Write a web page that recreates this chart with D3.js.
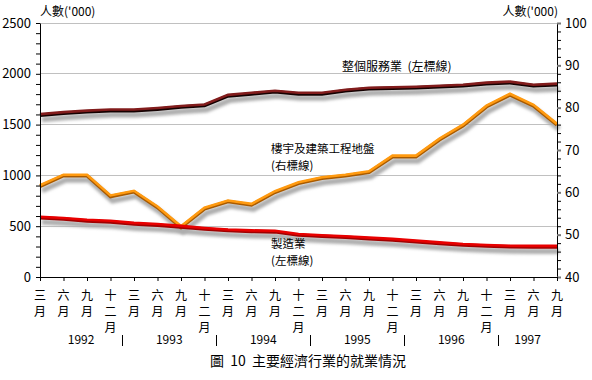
<!DOCTYPE html>
<html><head><meta charset="utf-8">
<script src="https://cdn.jsdelivr.net/npm/d3@7"></script>
<style>
body{margin:0;background:#fff}
text{font-family:"Noto Sans CJK TC","Noto Sans CJK SC",sans-serif;fill:#000}
</style>
</head><body>
<svg id="c" width="592" height="380"></svg>
<script>
// ---- data ----
const years = ["1992","1993","1994","1995","1996","1997"];
const periodYear = [
  "1992","1992","1992","1992",
  "1993","1993","1993","1993",
  "1994","1994","1994","1994",
  "1995","1995","1995","1995",
  "1996","1996","1996","1996",
  "1997","1997","1997"];
const periodMonth = [
  "三月","六月","九月","十二月",
  "三月","六月","九月","十二月",
  "三月","六月","九月","十二月",
  "三月","六月","九月","十二月",
  "三月","六月","九月","十二月",
  "三月","六月","九月"];
// 整個服務業 (left axis)
const services = [1600,1620,1635,1645,1645,1660,1680,1695,1790,1810,1830,1810,
                  1810,1840,1860,1865,1870,1880,1890,1910,1920,1890,1900];
// 樓宇及建築工程地盤 (right axis)
const construction = [61.6,64.1,64.1,59.2,60.3,56.6,51.9,56.3,58.0,57.2,60.2,62.3,
                      63.5,64.1,64.9,68.6,68.6,72.6,75.9,80.4,83.2,80.6,76.1];
// 製造業 (left axis)
const manufacturing = [590,578,560,550,530,518,500,480,465,456,452,420,
                       408,398,385,372,355,338,322,312,305,303,303];
const leftTicks = [0,500,1000,1500,2000,2500];
const rightTicks = [40,50,60,70,80,90,100];
const axisTitle = "人數('000)";
const title = "圖 10 主要經濟行業的就業情況";

// ---- layout ----
const svg = d3.select("#c");
const X0 = 40, X1 = 557, Y0 = 277, Y1 = 23;
const idx = d3.range(periodMonth.length);
const x = d3.scalePoint().domain(idx).range([X0, X1]);
const yL = d3.scaleLinear().domain([0,2500]).range([Y0, Y1]);
const yR = d3.scaleLinear().domain([40,100]).range([Y0, Y1]);

const defs = svg.append("defs");
defs.append("filter").attr("id","blur").attr("x","-10%").attr("y","-50%").attr("width","120%").attr("height","200%")
  .append("feGaussianBlur").attr("stdDeviation",1.5);

// gridlines
svg.append("g").selectAll("line").data(leftTicks.filter(d=>d>0)).join("line")
  .attr("x1",X0).attr("x2",X1).attr("y1",d=>yL(d)).attr("y2",d=>yL(d))
  .attr("stroke","#c0c0c0").attr("stroke-width",1).attr("shape-rendering","crispEdges");

// series
const series = [
  {vals: services, y: yL, color:"#821c1c", edge:"#140000"},
  {vals: construction, y: yR, color:"#ff9a10", edge:"#a85a00"},
  {vals: manufacturing, y: yL, color:"#e80000", edge:"#a00000"}
];
const shadowG = svg.append("g");
const lineG = svg.append("g");
series.forEach(s=>{
  const gen = d3.line().x((d,i)=>x(i)).y(d=>s.y(d));
  shadowG.append("path").attr("d",gen(s.vals)).attr("fill","none")
    .attr("stroke","#adadad").attr("stroke-width",5.5).attr("filter","url(#blur)")
    .attr("transform","translate(2,5)");
});
series.forEach(s=>{
  const gen = d3.line().x((d,i)=>x(i)).y(d=>s.y(d));
  lineG.append("path").attr("d",gen(s.vals)).attr("fill","none")
    .attr("stroke",s.edge).attr("stroke-width",3.5).attr("transform","translate(0,0.8)");
  lineG.append("path").attr("d",gen(s.vals)).attr("fill","none")
    .attr("stroke",s.color).attr("stroke-width",2.6).attr("transform","translate(0,-0.3)");
});

// axes
const axL = svg.append("g").attr("transform",`translate(${X0},0)`)
  .call(d3.axisLeft(yL).tickValues(d3.range(0,2501,100)).tickSize(4).tickSizeOuter(0).tickPadding(5)
    .tickFormat(d=> leftTicks.includes(d) ? d : ""));
const axR = svg.append("g").attr("transform",`translate(${X1},0)`)
  .call(d3.axisRight(yR).tickValues(d3.range(40,101,2)).tickSize(4).tickSizeOuter(0).tickPadding(4)
    .tickFormat(d=> rightTicks.includes(d) ? d : ""));
const axB = svg.append("g").attr("transform",`translate(0,${Y0})`)
  .call(d3.axisBottom(x).tickSize(4).tickSizeOuter(0).tickFormat(""));
[axL,axR,axB].forEach(a=>{
  a.selectAll("path,line").attr("stroke","#000");
  a.selectAll("text").attr("font-size",13).attr("font-family",'"Noto Sans CJK TC",sans-serif');
});
axR.selectAll(".tick").filter(d=>rightTicks.includes(d)).select("line").attr("stroke","#777").attr("stroke-width",2);

// month labels (vertical)
const ml = svg.append("g").attr("font-size",12);
idx.forEach(i=>{
  const chars = Array.from(periodMonth[i]);
  chars.forEach((c,k)=>{
    ml.append("text").attr("x",x(i)).attr("y",300+k*16).attr("text-anchor","middle").text(c);
  });
});

// year labels and separators
const step = x.step();
years.forEach((yr,j)=>{
  const pts = idx.filter(i=>periodYear[i]===yr).map(i=>x(i));
  const lo = Math.max(X0, d3.min(pts)-step/2), hi = Math.min(X1, d3.max(pts)+step/2);
  svg.append("text").attr("x",(lo+hi)/2).attr("y",344).attr("text-anchor","middle")
    .attr("font-size",12).text(yr);
  if (j>0) {
    svg.append("line").attr("x1",Math.round(lo)+0.5).attr("x2",Math.round(lo)+0.5)
      .attr("y1",335).attr("y2",346).attr("stroke","#000");
  }
});

// axis titles
svg.append("text").attr("x",40).attr("y",16).attr("font-size",12).text(axisTitle);
svg.append("text").attr("x",558).attr("y",16).attr("font-size",12).attr("text-anchor","end").text(axisTitle);

// annotations
const ann = svg.append("g").attr("font-size",11.5);
ann.append("text").attr("x",342).attr("y",71).attr("font-size",12).attr("xml:space","preserve")
  .style("white-space","pre").text("整個服務業  (左標線)");
ann.append("text").attr("x",271).attr("y",153).text("樓宇及建築工程地盤");
ann.append("text").attr("x",271).attr("y",170).text("(右標線)");
ann.append("text").attr("x",271).attr("y",248).text("製造業");
ann.append("text").attr("x",271).attr("y",265).text("(左標線)");

// title
svg.append("text").attr("x",308).attr("y",366).attr("text-anchor","middle").attr("font-size",14)
  .attr("xml:space","preserve").style("white-space","pre").text(title.replace(/ /g,"  "));
</script>
</body></html>
